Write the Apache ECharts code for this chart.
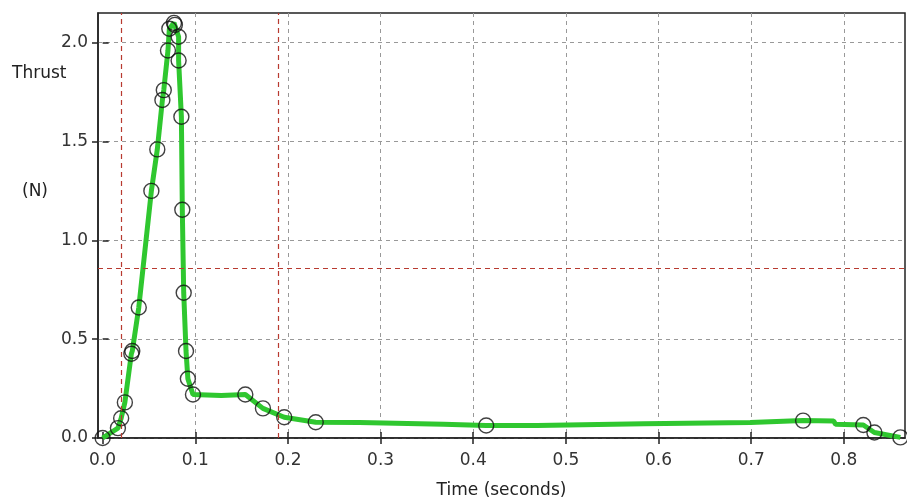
<!DOCTYPE html>
<html>
<head>
<meta charset="utf-8">
<script src="https://cdn.jsdelivr.net/npm/echarts@6/dist/echarts.min.js"></script>
<style>html,body{margin:0;padding:0;background:#fff}#c{width:907px;height:504px}</style>
</head>
<body>
<div id="c"></div>
<script>
// Thrust curve (line) samples: time (s), thrust (N)
const lineTime = [0, 0.0165, 0.020, 0.024, 0.031, 0.032, 0.039, 0.0526, 0.059, 0.0645, 0.066, 0.0705, 0.072, 0.077, 0.078, 0.082, 0.082, 0.085, 0.086, 0.0875, 0.090, 0.092, 0.0975, 0.128, 0.130, 0.154, 0.173, 0.196, 0.230, 0.277, 0.279, 0.368, 0.370, 0.414, 0.469, 0.471, 0.584, 0.586, 0.699, 0.701, 0.756, 0.789, 0.791, 0.821, 0.833, 0.861];
const lineThrust = [0, 0.05, 0.10, 0.18, 0.426, 0.44, 0.66, 1.25, 1.46, 1.71, 1.76, 1.96, 2.07, 2.10, 2.09, 2.03, 1.91, 1.625, 1.155, 0.735, 0.44, 0.30, 0.22, 0.215, 0.222, 0.22, 0.15, 0.105, 0.08, 0.078, 0.07, 0.07, 0.063, 0.063, 0.063, 0.072, 0.072, 0.078, 0.078, 0.086, 0.088, 0.086, 0.07, 0.066, 0.028, 0.003];
// Measured points (circle markers)
const markerTime = [0, 0.0165, 0.020, 0.024, 0.031, 0.032, 0.039, 0.0526, 0.059, 0.0645, 0.066, 0.0705, 0.072, 0.077, 0.078, 0.082, 0.082, 0.085, 0.086, 0.0875, 0.090, 0.092, 0.0975, 0.154, 0.173, 0.196, 0.230, 0.414, 0.756, 0.821, 0.833, 0.861];
const markerThrust = [0, 0.05, 0.10, 0.18, 0.426, 0.44, 0.66, 1.25, 1.46, 1.71, 1.76, 1.96, 2.07, 2.10, 2.09, 2.03, 1.91, 1.625, 1.155, 0.735, 0.44, 0.30, 0.22, 0.22, 0.15, 0.105, 0.08, 0.063, 0.088, 0.066, 0.028, 0.003];
// Reference (red dashed) lines
const refTimes = [0.021, 0.194];
const refThrust = [0.862];
// Tick labels
const xTicks = [0, 0.1, 0.2, 0.3, 0.4, 0.5, 0.6, 0.7, 0.8];
const yTicks = [0, 0.5, 1.0, 1.5, 2.0];

const FONT = 'DejaVu Sans';
const lineData = lineTime.map((t, i) => [t, lineThrust[i]]);
const markerData = markerTime.map((t, i) => [t, markerThrust[i]]);

const chart = echarts.init(document.getElementById('c'));
const gridLine = { show: true, lineStyle: { color: '#999', type: [4, 4], width: 1 } };
const tickStyle = { color: '#222', width: 1.5 };
const baseX = { type: 'value', min: -0.005, max: 0.866, position: 'bottom' };
const baseY = { type: 'value', min: 0, max: 2.15, position: 'left' };
const overlay = (base, inside, values) => Object.assign({}, base, {
  axisLine: { show: false },
  axisTick: { show: true, inside: inside, length: 6, customValues: values, lineStyle: tickStyle },
  axisLabel: { show: false }, splitLine: { show: false }
});
chart.setOption({
  animation: false,
  grid: { left: 98, right: 2, top: 13, bottom: 59, show: true, borderColor: '#222', borderWidth: 1.5, backgroundColor: '#fff' },
  xAxis: [
    Object.assign({}, baseX, {
      name: 'Time (seconds)', nameLocation: 'middle', nameGap: 44,
      nameTextStyle: { fontFamily: FONT, fontSize: 17, color: '#222' },
      axisLine: { show: true, onZero: false, lineStyle: tickStyle },
      axisTick: { show: true, length: 6, customValues: xTicks.slice(1), lineStyle: tickStyle },
      axisLabel: { customValues: xTicks, margin: 14, fontFamily: FONT, fontSize: 17, color: '#333', formatter: v => v.toFixed(1) },
      splitLine: gridLine
    }),
    overlay(baseX, false, xTicks),
    overlay(baseX, true, xTicks)
  ],
  yAxis: [
    Object.assign({}, baseY, {
      axisLine: { show: true, onZero: false, lineStyle: tickStyle },
      axisTick: { show: true, length: 6, customValues: yTicks, lineStyle: tickStyle },
      axisLabel: { customValues: yTicks, margin: 10, fontFamily: FONT, fontSize: 17, color: '#333', formatter: v => v.toFixed(1) },
      splitLine: gridLine
    }),
    overlay(baseY, true, yTicks)
  ],
  graphic: [
    { type: 'text', left: 12, top: 65, style: { text: 'Thrust', font: '17px "DejaVu Sans"', fill: '#222' } },
    { type: 'text', left: 22, top: 183, style: { text: '(N)', font: '17px "DejaVu Sans"', fill: '#222' } }
  ],
  series: [
    {
      type: 'line', data: lineData, showSymbol: false, symbol: 'none',
      lineStyle: { color: '#2fc72f', width: 5 }, z: 3,
      markLine: {
        silent: true, symbol: 'none', label: { show: false },
        lineStyle: { color: '#b83a30', type: [5, 4], width: 1.2 },
        data: refTimes.map(t => ({ xAxis: t })).concat(refThrust.map(v => ({ yAxis: v })))
      }
    },
    {
      type: 'scatter', data: markerData, symbol: 'circle', symbolSize: 15,
      itemStyle: { color: 'rgba(0,0,0,0)', borderColor: '#111', borderWidth: 1.4 }, z: 4
    }
  ]
});
</script>
</body>
</html>
